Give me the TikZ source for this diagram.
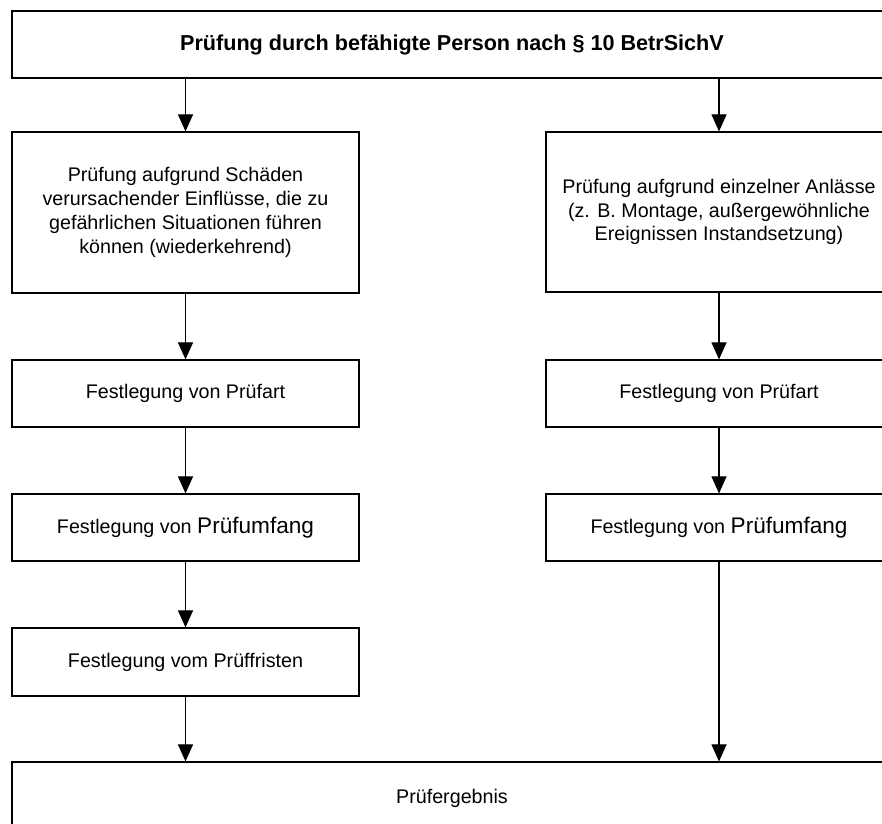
\documentclass[tikz,border=0pt]{standalone}
\usepackage{fontspec}
\setmainfont{Liberation Sans}
\usetikzlibrary{arrows.meta}
\begin{document}
\begin{tikzpicture}[x=1pt,y=-1pt,
  box/.style={draw=black,line width=1.2pt,fill=white,rectangle,inner sep=0pt,align=center,
    font=\fontsize{19.7}{23.8}\selectfont},
  arr/.style={draw=black,line width=1.1pt,-{Triangle[length=17pt,width=15pt]}}]
\useasboundingbox (0,0) rectangle (882,823);
\clip (0,0) rectangle (882,823);
\fill[white] (0,0) rectangle (882,823);
\node[box,minimum width=880pt,minimum height=67pt,font=\fontsize{21.6}{26}\selectfont\bfseries] (top) at (452,44.5)
  {Prüfung durch befähigte Person nach § 10 BetrSichV};
\node[box,minimum width=347pt,minimum height=161pt] (L1) at (185.5,212.5)
  {Prüfung aufgrund Schäden\\verursachender Einflüsse, die zu\\gefährlichen Situationen führen\\können (wiederkehrend)};
\node[box,minimum width=346pt,minimum height=160pt] (R1) at (719,212)
  {Prüfung aufgrund einzelner Anlässe\\(z. B. Montage, außergewöhnliche\\Ereignissen Instandsetzung)};
\node[box,minimum width=347pt,minimum height=67pt] (L2) at (185.5,393.5) {Festlegung von Prüfart};
\node[box,minimum width=346pt,minimum height=67pt] (R2) at (719,393.5) {Festlegung von Prüfart};
\node[box,minimum width=347pt,minimum height=67pt] (L3) at (185.5,527.5)
  {Festlegung von {\fontsize{22.6}{26}\selectfont Prüfumfang}};
\node[box,minimum width=346pt,minimum height=67pt] (R3) at (719,527.5)
  {Festlegung von {\fontsize{22.6}{26}\selectfont Prüfumfang}};
\node[box,minimum width=347pt,minimum height=68pt] (L4) at (185.5,662) {Festlegung vom Prüffristen};
\node[box,minimum width=880pt,minimum height=72pt] (bot) at (452,798) {Prüfergebnis};
\draw[arr] (top.south -| L1.north) -- (L1.north);
\draw[arr] (top.south -| R1.north) -- (R1.north);
\draw[arr] (L1) -- (L2);
\draw[arr] (L2) -- (L3);
\draw[arr] (L3) -- (L4);
\draw[arr] (L4.south) -- (L4.south |- bot.north);
\draw[arr] (R1) -- (R2);
\draw[arr] (R2) -- (R3);
\draw[arr] (R3.south) -- (R3.south |- bot.north);
\end{tikzpicture}
\end{document}
